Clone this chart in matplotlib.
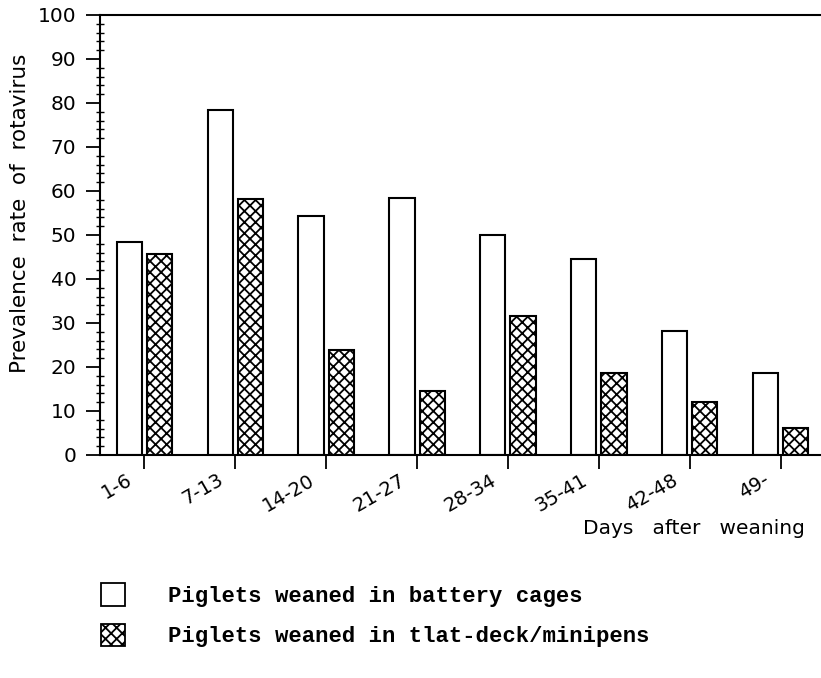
import numpy as np
import matplotlib.pyplot as plt
from matplotlib.patches import Patch
from matplotlib.transforms import ScaledTranslation

# donnees
jours = ['1-6', '7-13', '14-20', '21-27', '28-34', '35-41', '42-48', '49-']
batterie = [48.5, 78.5, 54.3, 58.4, 50.0, 44.5, 28.2, 18.6]
flat_deck = [45.6, 58.2, 23.8, 14.6, 31.7, 18.6, 12.1, 6.1]

lab_batterie = 'Piglets weaned in battery cages'
lab_flat = 'Piglets weaned in tlat-deck/minipens'

plt.rcParams['font.family'] = 'DejaVu Sans'
plt.rcParams['hatch.linewidth'] = 1.3

fig = plt.figure(figsize=(8.21, 6.78), dpi=100)
ax = fig.add_axes([100/821, 1-455/678, 721/821, 440/678])

x = np.arange(len(jours))
w = 0.275
d = 0.165
ax.bar(x - d, batterie, w, color='white', edgecolor='black', linewidth=1.5)
ax.bar(x + d, flat_deck, w, color='white', edgecolor='black', linewidth=1.5, hatch='xxx')

ax.set_xlim(-0.484, 7.44)
ax.set_ylim(0, 100)

ax.spines['right'].set_visible(False)
for s in ['left', 'bottom', 'top']:
    ax.spines[s].set_linewidth(1.5)

ax.set_yticks(np.arange(0, 101, 10))
ax.set_yticks(np.arange(0, 101, 2), minor=True)
ax.tick_params(axis='y', which='major', length=10, width=1.3, labelsize=14.5, pad=7)
ax.tick_params(axis='y', which='minor', length=6, width=1.0, direction='inout')

ax.set_xticks(x)
ax.set_xticklabels(jours, rotation=30, ha='right', rotation_mode='anchor', fontsize=14)
ax.tick_params(axis='x', length=10, width=1.3, pad=1)
decal = ScaledTranslation(-13/72, 0, fig.dpi_scale_trans)
for t in ax.get_xticklabels():
    t.set_transform(t.get_transform() + decal)

ax.set_ylabel('Prevalence  rate  of  rotavirus', fontsize=15.5)
ax.yaxis.set_label_coords(-0.097, 0.55)
ax.text(0.978, -0.166, 'Days   after   weaning', transform=ax.transAxes,
        ha='right', va='center', fontsize=14.5)

poignees = [Patch(facecolor='white', edgecolor='black', linewidth=1.3),
            Patch(facecolor='white', edgecolor='black', linewidth=1.3, hatch='xxx')]
fig.legend(poignees, [lab_batterie, lab_flat], loc='upper left',
           bbox_to_anchor=(81/821, 1-563/678), frameon=False,
           prop={'family': 'Liberation Mono', 'weight': 'bold', 'size': 16},
           handlelength=1.1, handleheight=1.2, handletextpad=1.9,
           labelspacing=0.75)

fig.savefig('out.png', dpi=100)
